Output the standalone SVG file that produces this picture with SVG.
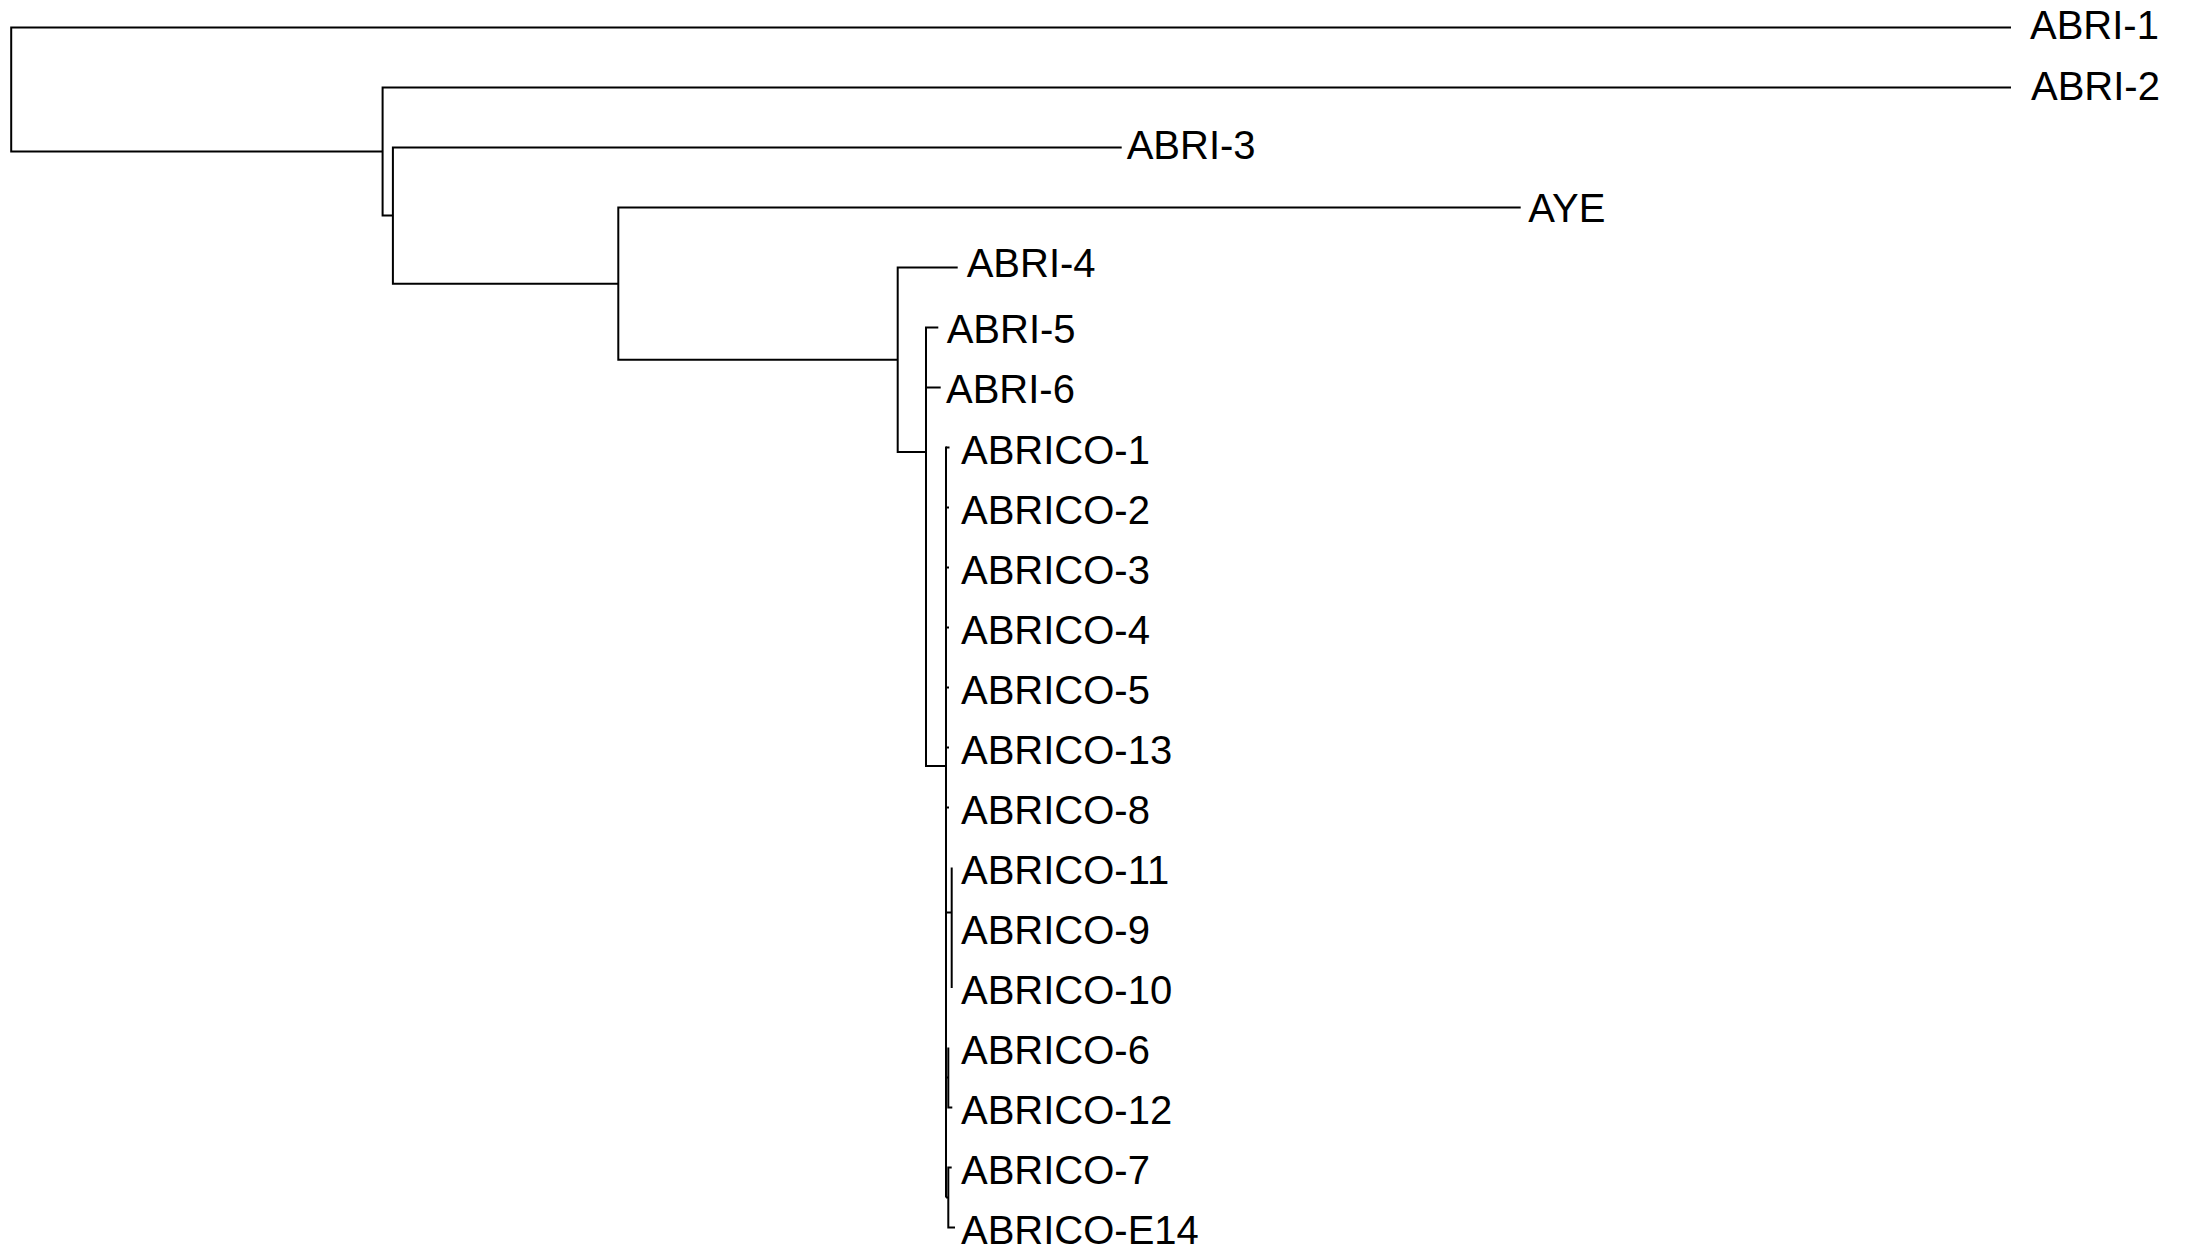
<svg xmlns="http://www.w3.org/2000/svg" width="2193" height="1252" viewBox="0 0 2193 1252">
<style>
.e{fill:none;stroke:#000;stroke-width:2;stroke-linecap:butt;stroke-linejoin:miter}
.t{font-family:"Liberation Sans",Arial,Helvetica,sans-serif;font-size:40px;fill:#000}
</style>
<rect width="2193" height="1252" fill="#fff"/>
<g id="connectors">
<path class="e" d="M2011 27.5 H11.2 V151.5 H382.6"/>
<path class="e" d="M2011 87.5 H382.6 V215.6 H392.9"/>
<path class="e" d="M1121.7 147.5 H392.9 V283.7 H618.3"/>
<path class="e" d="M1520.7 207.5 H618.3 V359.8 H897.7"/>
<path class="e" d="M957.7 267.5 H897.7 V452.1 H926"/>
<path class="e" d="M938.3 327.5 H926 V766 H946"/>
<path class="e" d="M940.7 387.5 H926"/>
<path class="e" d="M946 446.5 V1197.5"/>
<path class="e" d="M946 447.5 H949.5"/>
<path class="e" d="M946 507.5 H949"/>
<path class="e" d="M946 567.5 H949"/>
<path class="e" d="M946 627.5 H949"/>
<path class="e" d="M946 687.5 H949"/>
<path class="e" d="M946 747.5 H949"/>
<path class="e" d="M946 807.5 H949"/>
<path class="e" d="M946 912.5 H951.7"/>
<path class="e" d="M951.7 867.5 V988"/>
<path class="e" d="M946 1077.5 H948.3"/>
<path class="e" d="M948.3 1047.5 V1107.5 H952.3"/>
<path class="e" d="M946 1197.5 H948.3"/>
<path class="e" d="M951.7 1167.5 H948.3 V1227.5 H955"/>
</g>
<g id="n-ABRI-1"><text class="t" x="2030" y="39.3">ABRI-1</text></g>
<g id="n-ABRI-2"><text class="t" x="2031" y="100">ABRI-2</text></g>
<g id="n-ABRI-3"><text class="t" x="1126.7" y="159">ABRI-3</text></g>
<g id="n-AYE"><text class="t" x="1528.3" y="221.7">AYE</text></g>
<g id="n-ABRI-4"><text class="t" x="966.7" y="276.7">ABRI-4</text></g>
<g id="n-ABRI-5"><text class="t" x="946.7" y="342.7">ABRI-5</text></g>
<g id="n-ABRI-6"><text class="t" x="946" y="403.3">ABRI-6</text></g>
<g id="n-ABRICO-1"><text class="t" x="961" y="464.3">ABRICO-1</text></g>
<g id="n-ABRICO-2"><text class="t" x="961" y="524.3">ABRICO-2</text></g>
<g id="n-ABRICO-3"><text class="t" x="961" y="584.3">ABRICO-3</text></g>
<g id="n-ABRICO-4"><text class="t" x="961" y="644.3">ABRICO-4</text></g>
<g id="n-ABRICO-5"><text class="t" x="961" y="704.3">ABRICO-5</text></g>
<g id="n-ABRICO-13"><text class="t" x="961" y="764.3">ABRICO-13</text></g>
<g id="n-ABRICO-8"><text class="t" x="961" y="824.3">ABRICO-8</text></g>
<g id="n-ABRICO-11"><text class="t" x="961" y="884.3">ABRICO-11</text></g>
<g id="n-ABRICO-9"><text class="t" x="961" y="944.3">ABRICO-9</text></g>
<g id="n-ABRICO-10"><text class="t" x="961" y="1004.3">ABRICO-10</text></g>
<g id="n-ABRICO-6"><text class="t" x="961" y="1064.3">ABRICO-6</text></g>
<g id="n-ABRICO-12"><text class="t" x="961" y="1124.3">ABRICO-12</text></g>
<g id="n-ABRICO-7"><text class="t" x="961" y="1184.3">ABRICO-7</text></g>
<g id="n-ABRICO-E14"><text class="t" x="961" y="1244.3">ABRICO-E14</text></g>
</svg>
